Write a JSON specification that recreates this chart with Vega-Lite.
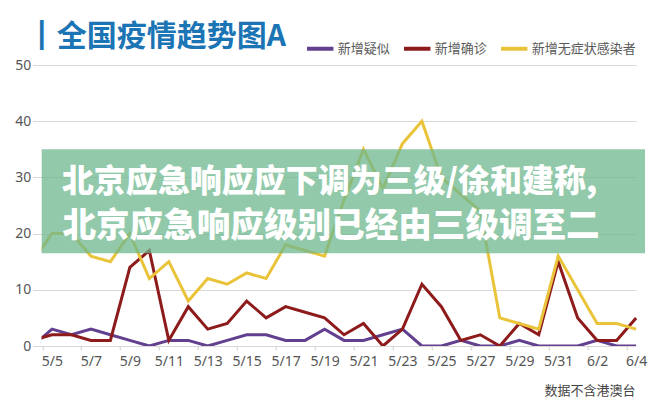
{
  "$schema": "https://vega.github.io/schema/vega-lite/v6.json",
  "width": 603.3,
  "height": 281,
  "autosize": {"type": "none"},
  "padding": {"left": 41.7, "top": 65, "right": 15, "bottom": 57},
  "background": "white",
  "title": {"text": "┃全国疫情趋势图A", "anchor": "start", "frame": "group", "font": "Noto Sans CJK SC", "fontSize": 30, "fontWeight": "bold", "color": "#1b74b4", "dx": -15, "dy": 51, "offset": 8, "baseline": "alphabetic"},
  "config": {"view": {"stroke": null}, "font": "Noto Sans CJK SC"},
  "datasets": {
    "cases": [
      {"d": "5/4", "s": "新增疑似", "v": 0}, {"d": "5/5", "s": "新增疑似", "v": 3}, {"d": "5/6", "s": "新增疑似", "v": 2}, {"d": "5/7", "s": "新增疑似", "v": 3},
      {"d": "5/8", "s": "新增疑似", "v": 2}, {"d": "5/9", "s": "新增疑似", "v": 1}, {"d": "5/10", "s": "新增疑似", "v": 0}, {"d": "5/11", "s": "新增疑似", "v": 1},
      {"d": "5/12", "s": "新增疑似", "v": 1}, {"d": "5/13", "s": "新增疑似", "v": 0}, {"d": "5/14", "s": "新增疑似", "v": 1}, {"d": "5/15", "s": "新增疑似", "v": 2},
      {"d": "5/16", "s": "新增疑似", "v": 2}, {"d": "5/17", "s": "新增疑似", "v": 1}, {"d": "5/18", "s": "新增疑似", "v": 1}, {"d": "5/19", "s": "新增疑似", "v": 3},
      {"d": "5/20", "s": "新增疑似", "v": 1}, {"d": "5/21", "s": "新增疑似", "v": 1}, {"d": "5/22", "s": "新增疑似", "v": 2}, {"d": "5/23", "s": "新增疑似", "v": 3},
      {"d": "5/24", "s": "新增疑似", "v": 0}, {"d": "5/25", "s": "新增疑似", "v": 0}, {"d": "5/26", "s": "新增疑似", "v": 1}, {"d": "5/27", "s": "新增疑似", "v": 0},
      {"d": "5/28", "s": "新增疑似", "v": 0}, {"d": "5/29", "s": "新增疑似", "v": 1}, {"d": "5/30", "s": "新增疑似", "v": 0}, {"d": "5/31", "s": "新增疑似", "v": 0},
      {"d": "6/1", "s": "新增疑似", "v": 0}, {"d": "6/2", "s": "新增疑似", "v": 1}, {"d": "6/3", "s": "新增疑似", "v": 0}, {"d": "6/4", "s": "新增疑似", "v": 0},
      {"d": "5/4", "s": "新增确诊", "v": 1}, {"d": "5/5", "s": "新增确诊", "v": 2}, {"d": "5/6", "s": "新增确诊", "v": 2}, {"d": "5/7", "s": "新增确诊", "v": 1},
      {"d": "5/8", "s": "新增确诊", "v": 1}, {"d": "5/9", "s": "新增确诊", "v": 14}, {"d": "5/10", "s": "新增确诊", "v": 17}, {"d": "5/11", "s": "新增确诊", "v": 1},
      {"d": "5/12", "s": "新增确诊", "v": 7}, {"d": "5/13", "s": "新增确诊", "v": 3}, {"d": "5/14", "s": "新增确诊", "v": 4}, {"d": "5/15", "s": "新增确诊", "v": 8},
      {"d": "5/16", "s": "新增确诊", "v": 5}, {"d": "5/17", "s": "新增确诊", "v": 7}, {"d": "5/18", "s": "新增确诊", "v": 6}, {"d": "5/19", "s": "新增确诊", "v": 5},
      {"d": "5/20", "s": "新增确诊", "v": 2}, {"d": "5/21", "s": "新增确诊", "v": 4}, {"d": "5/22", "s": "新增确诊", "v": 0}, {"d": "5/23", "s": "新增确诊", "v": 3},
      {"d": "5/24", "s": "新增确诊", "v": 11}, {"d": "5/25", "s": "新增确诊", "v": 7}, {"d": "5/26", "s": "新增确诊", "v": 1}, {"d": "5/27", "s": "新增确诊", "v": 2},
      {"d": "5/28", "s": "新增确诊", "v": 0}, {"d": "5/29", "s": "新增确诊", "v": 4}, {"d": "5/30", "s": "新增确诊", "v": 2}, {"d": "5/31", "s": "新增确诊", "v": 15},
      {"d": "6/1", "s": "新增确诊", "v": 5}, {"d": "6/2", "s": "新增确诊", "v": 1}, {"d": "6/3", "s": "新增确诊", "v": 1}, {"d": "6/4", "s": "新增确诊", "v": 5},
      {"d": "5/4", "s": "新增无症状感染者", "v": 15}, {"d": "5/5", "s": "新增无症状感染者", "v": 20}, {"d": "5/6", "s": "新增无症状感染者", "v": 20}, {"d": "5/7", "s": "新增无症状感染者", "v": 16},
      {"d": "5/8", "s": "新增无症状感染者", "v": 15}, {"d": "5/9", "s": "新增无症状感染者", "v": 20}, {"d": "5/10", "s": "新增无症状感染者", "v": 12}, {"d": "5/11", "s": "新增无症状感染者", "v": 15},
      {"d": "5/12", "s": "新增无症状感染者", "v": 8}, {"d": "5/13", "s": "新增无症状感染者", "v": 12}, {"d": "5/14", "s": "新增无症状感染者", "v": 11}, {"d": "5/15", "s": "新增无症状感染者", "v": 13},
      {"d": "5/16", "s": "新增无症状感染者", "v": 12}, {"d": "5/17", "s": "新增无症状感染者", "v": 18}, {"d": "5/18", "s": "新增无症状感染者", "v": 17}, {"d": "5/19", "s": "新增无症状感染者", "v": 16},
      {"d": "5/20", "s": "新增无症状感染者", "v": 26}, {"d": "5/21", "s": "新增无症状感染者", "v": 35}, {"d": "5/22", "s": "新增无症状感染者", "v": 28}, {"d": "5/23", "s": "新增无症状感染者", "v": 36},
      {"d": "5/24", "s": "新增无症状感染者", "v": 40}, {"d": "5/25", "s": "新增无症状感染者", "v": 30}, {"d": "5/26", "s": "新增无症状感染者", "v": 27}, {"d": "5/27", "s": "新增无症状感染者", "v": 24},
      {"d": "5/28", "s": "新增无症状感染者", "v": 5}, {"d": "5/29", "s": "新增无症状感染者", "v": 4}, {"d": "5/30", "s": "新增无症状感染者", "v": 3}, {"d": "5/31", "s": "新增无症状感染者", "v": 16},
      {"d": "6/1", "s": "新增无症状感染者", "v": 10}, {"d": "6/2", "s": "新增无症状感染者", "v": 4}, {"d": "6/3", "s": "新增无症状感染者", "v": 4}, {"d": "6/4", "s": "新增无症状感染者", "v": 3}
    ]
  },
  "layer": [
    {
      "data": {"name": "cases"},
      "mark": {"type": "line", "strokeWidth": 3, "clip": true},
      "encoding": {
        "x": {
          "field": "d", "type": "ordinal", "sort": null,
          "scale": {"type": "point", "padding": 0, "range": [-9.2, 594.4],
            "domain": ["5/4","5/5","5/6","5/7","5/8","5/9","5/10","5/11","5/12","5/13","5/14","5/15","5/16","5/17","5/18","5/19","5/20","5/21","5/22","5/23","5/24","5/25","5/26","5/27","5/28","5/29","5/30","5/31","6/1","6/2","6/3","6/4"]},
          "axis": {
            "title": "数据不含港澳台",
            "values": ["5/5","5/7","5/9","5/11","5/13","5/15","5/17","5/19","5/21","5/23","5/25","5/27","5/29","5/31","6/2","6/4"],
            "domain": false, "grid": false, "ticks": true, "tickSize": 4, "tickColor": "#d0d0d0",
            "tickOffset": -9.74, "labelOffset": 9.74,
            "labelFont": "Noto Sans", "labelFontSize": 14, "labelColor": "#555555", "labelPadding": 4, "labelAngle": 0,
            "titleFont": "Noto Sans CJK SC", "titleFontSize": 13, "titleFontWeight": "normal", "titleColor": "#444444",
            "titleAnchor": "end", "titleAlign": "right", "titleX": 593.3, "titleY": 48, "titleBaseline": "alphabetic"
          }
        },
        "y": {
          "field": "v", "type": "quantitative",
          "scale": {"domain": [0, 50]},
          "axis": {"title": null, "values": [0, 10, 20, 30, 40, 50], "domain": false, "ticks": false, "tickSize": 0, "grid": true, "gridColor": "#d9d9d9",
            "labelFont": "Noto Sans", "labelFontSize": 14, "labelColor": "#555555", "labelPadding": 11}
        },
        "color": {
          "field": "s", "type": "nominal",
          "scale": {"domain": ["新增疑似", "新增确诊", "新增无症状感染者"], "range": ["#62408f", "#8e1b1b", "#e9c43b"]},
          "legend": {"title": null, "orient": "none", "direction": "horizontal", "legendX": 263, "legendY": -32,
            "symbolType": "stroke", "symbolStrokeWidth": 4, "symbolSize": 700,
            "labelFont": "Noto Sans CJK SC", "labelFontSize": 13, "labelColor": "#595959", "labelOffset": 2, "columnPadding": 5, "padding": 0}
        }
      }
    },
    {
      "data": {"values": [{}]},
      "mark": {"type": "rect", "fill": "#6cb78e", "opacity": 0.75},
      "encoding": {"y": {"datum": 35}, "y2": {"datum": 16.5}}
    },
    {
      "data": {"values": [{}]},
      "mark": {"type": "text", "text": "北京应急响应应下调为三级/徐和建称,", "font": "Noto Sans CJK SC", "fontSize": 32, "fontWeight": 900, "fill": "white", "align": "center", "baseline": "middle", "dx": 5},
      "encoding": {"x": {"datum": "5/19"}, "y": {"datum": 29.1}}
    },
    {
      "data": {"values": [{}]},
      "mark": {"type": "text", "text": "北京应急响应级别已经由三级调至二", "font": "Noto Sans CJK SC", "fontSize": 33.6, "fontWeight": 900, "fill": "white", "align": "center", "baseline": "middle", "dx": 6.5},
      "encoding": {"x": {"datum": "5/19"}, "y": {"datum": 21.2}}
    }
  ]
}
